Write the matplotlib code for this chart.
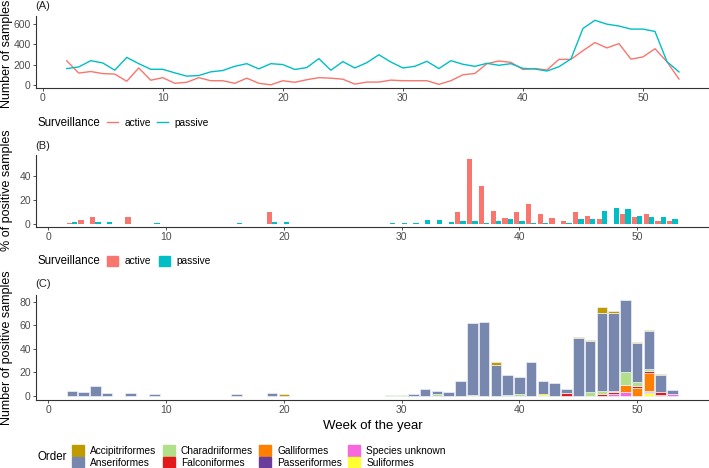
import matplotlib.pyplot as plt
import numpy as np
from matplotlib.lines import Line2D
from matplotlib.patches import Patch

plt.rcParams['font.family'] = ['Liberation Sans', 'DejaVu Sans']

# ---- data ----
# (A) weekly number of samples
weeks_a = list(range(2, 54))
active_n = [240, 120, 135, 115, 110, 40, 170, 50, 75, 20, 30, 75, 45, 45, 20, 70, 20, 5,
            45, 30, 55, 75, 70, 60, 12, 32, 32, 51, 45, 45, 45, 10, 45, 103, 116, 212,
            238, 225, 155, 164, 150, 254, 254, 339, 418, 366, 408, 256, 278, 358, 230, 62]
passive_n = [164, 180, 241, 219, 148, 273, 212, 157, 157, 122, 90, 96, 132, 145, 186, 212,
             161, 212, 203, 155, 174, 261, 148, 232, 170, 222, 299, 228, 170, 186, 235,
             164, 241, 206, 186, 215, 196, 212, 166, 160, 140, 182, 258, 556, 636, 598,
             580, 550, 550, 527, 232, 131]

# (B) % of positive samples
active_weeks_b = [2, 3, 4, 7, 19, 35, 36, 37, 38, 39, 40, 41, 42, 43, 44, 45, 46, 47,
                  49, 50, 51, 52, 53]
active_pct = [1.0, 3.0, 5.5, 5.5, 9.6, 9.6, 53.7, 31.4, 11.0, 4.7, 9.6, 16.8, 8.0, 4.7,
              2.2, 9.6, 6.3, 4.4, 8.3, 5.5, 8.3, 2.8, 2.2]
passive_weeks_b = [2, 4, 5, 9, 16, 19, 20, 29, 30, 31, 32, 33, 34, 35, 36, 37, 38, 39,
                   40, 41, 42, 44, 45, 46, 47, 48, 49, 50, 51, 52, 53]
passive_pct = [1.6, 1.6, 2.0, 1.2, 1.2, 1.6, 1.6, 0.8, 0.8, 0.8, 3.3, 3.3, 2.0, 2.5, 2.5,
               0.8, 2.5, 4.4, 2.5, 0.8, 0.8, 0.8, 4.1, 4.1, 11.0, 13.0, 12.0, 6.3, 5.5,
               5.8, 3.9]

# (C) number of positive samples by order
weeks_c = [2, 3, 4, 5, 7, 9, 16, 19, 20] + list(range(29, 54))
accipitriformes = [0, 0, 0, 0, 0, 0, 0, 0, 1.4,
                   0, 0, 0, 0, 0, 0, 0, 0, 0, 2.5, 0, 0, 0, 0, 0, 0, 1.1, 1.1, 5, 1.4, 0,
                   0.8, 1.1, 0.8, 0]
anseriformes = [4.5, 3.7, 8.2, 2.8, 2.5, 1.4, 1.4, 2.5, 0,
                0, 0, 1.4, 6.2, 2.2, 3.4, 12.4, 61, 62.7, 26, 17, 14, 28.5, 11.2, 10.7,
                3.7, 49, 42.5, 66, 66, 61, 33, 31.6, 14, 3.7]
charadriiformes = [0, 0, 0, 0, 0, 0, 0, 0, 0,
                   1, 1, 0, 0, 2, 0, 0, 0, 0, 0, 1, 2, 0, 0, 0, 0, 0, 3.7, 2.5, 1.1, 11.3,
                   3.4, 1.7, 0, 0]
falconiformes = [0, 0, 0, 0, 0, 0, 0, 0, 0,
                 0, 0, 0, 0, 0, 0, 0, 0, 0, 0, 0, 0, 0, 0, 0, 2.3, 0, 0, 1.7, 1.4, 0,
                 2.3, 2, 2.5, 0]
galliformes = [0, 0, 0, 0, 0, 0, 0, 0, 0,
               0, 0, 0, 0, 0, 0, 0, 0, 0, 0, 0, 0, 0, 0, 0, 0, 0, 0, 0, 0, 5.6,
               6.5, 15.3, 0, 0]
passeriformes = [0, 0, 0, 0, 0, 0, 0, 0, 0,
                 0, 0, 0, 0, 0, 0, 0, 0, 0, 0, 0, 0, 0, 0, 0, 0, 0, 0, 0, 0, 0,
                 0, 0.7, 0, 0]
species_unknown = [0, 0, 0, 0, 0, 0, 0, 0, 0,
                   0, 0, 0, 0, 0, 0, 0, 0, 0, 0, 0, 0, 0, 0, 0, 0, 0, 0, 0, 2, 3.7,
                   0, 1.2, 1, 1.4]
suliformes = [0, 0, 0, 0, 0, 0, 0, 0, 0,
              0, 0, 0, 0, 0, 0, 0, 1, 0, 0, 0, 0, 0, 1.5, 0, 0, 0, 0, 0, 0, 0,
              0, 2.3, 0, 0]

orders = ['Accipitriformes', 'Anseriformes', 'Charadriiformes', 'Falconiformes',
          'Galliformes', 'Passeriformes', 'Species unknown', 'Suliformes']
order_values = [accipitriformes, anseriformes, charadriiformes, falconiformes,
                galliformes, passeriformes, species_unknown, suliformes]
order_colors = ['#BF9B00', '#7787AE', '#B2DF8A', '#E31A1C', '#FF7F00', '#6A3D9A',
                '#F768E0', '#FFFF33']

RED = '#F8766D'
CYAN = '#00BFC4'

# ---- figure ----
W, H = 709, 468
fig = plt.figure(figsize=(W / 100, H / 100), dpi=100)


def px_axes(left, top, right, bottom):
    return fig.add_axes([left / W, 1 - bottom / H, (right - left) / W, (bottom - top) / H])


def style(ax):
    for s in ['top', 'right']:
        ax.spines[s].set_visible(False)
    for s in ['left', 'bottom']:
        ax.spines[s].set_color('#333333')
        ax.spines[s].set_linewidth(0.8)
    ax.tick_params(length=2.2, width=0.6, color='#333333', labelsize=7.5,
                   labelcolor='#4D4D4D', pad=1.5)
    ax.set_xticks([0, 10, 20, 30, 40, 50])


# (A)
ax1 = px_axes(36, 16, 709, 88)
ax1.plot(weeks_a, active_n, color=RED, lw=1.0)
ax1.plot(weeks_a, passive_n, color=CYAN, lw=1.0)
ax1.set_xlim(-0.56, 55.5)
ax1.set_ylim(-26, 678)
ax1.set_yticks([0, 200, 400, 600])
style(ax1)

# (B)
ax2 = px_axes(36, 155, 709, 226.5)
bw = 0.45
ax2.bar(np.array(active_weeks_b) - bw / 2, active_pct, width=bw, color=RED)
ax2.bar(np.array(passive_weeks_b) + bw / 2, passive_pct, width=bw, color=CYAN)
ax2.set_xlim(-1.04, 56.1)
ax2.set_ylim(-2.1, 57.1)
ax2.set_yticks([0, 20, 40])
style(ax2)

# (C) stacked, ggplot order: first level on top
ax3 = px_axes(36, 295, 709, 400)
bottom = np.zeros(len(weeks_c))
for name, vals, col in reversed(list(zip(orders, order_values, order_colors))):
    vals = np.array(vals, dtype=float)
    mask = vals > 0
    ax3.bar(np.array(weeks_c)[mask], vals[mask], bottom=bottom[mask], width=0.9,
            color=col, edgecolor='#EEF1F7', linewidth=0.5)
    bottom += vals
ax3.set_xlim(-1.04, 56.1)
ax3.set_ylim(-3.4, 85.6)
ax3.set_yticks([0, 20, 40, 60, 80])
style(ax3)

# panel tags and axis titles
for tag, y in [('(A)', 6), ('(B)', 146), ('(C)', 284)]:
    fig.text(35 / W, 1 - y / H, tag, fontsize=8, color='#222222', va='center')
for lab, y in [('Number of samples', 54), ('% of positive samples', 190.5),
               ('Number of positive samples', 347.5)]:
    fig.text(7 / W, 1 - y / H, lab, fontsize=9, rotation=90, ha='center', va='center')
fig.text(372.5 / W, 1 - 426 / H, 'Week of the year', fontsize=9.5, ha='center', va='center')

# legends
fig.text(37 / W, 1 - 123 / H, 'Surveillance', fontsize=8.3, va='center')
fig.legend([Line2D([], [], color=RED, lw=1.0), Line2D([], [], color=CYAN, lw=1.0)],
           ['active', 'passive'], loc='center left', bbox_to_anchor=(107 / W, 1 - 123 / H),
           ncol=2, frameon=False, fontsize=7.3, handlelength=1.1, handletextpad=0.6,
           columnspacing=0.6, borderpad=0, borderaxespad=0)

fig.text(37 / W, 1 - 261 / H, 'Surveillance', fontsize=8.3, va='center')
fig.legend([Patch(color=RED), Patch(color=CYAN)], ['active', 'passive'],
           loc='center left', bbox_to_anchor=(107 / W, 1 - 261 / H), ncol=2,
           frameon=False, fontsize=7.3, handlelength=1.1, handleheight=1.2,
           handletextpad=0.6, columnspacing=0.8, borderpad=0, borderaxespad=0)

fig.text(37 / W, 1 - 457 / H, 'Order', fontsize=8.3, va='center')
fig.legend([Patch(color=c) for c in order_colors], orders, loc='center left',
           bbox_to_anchor=(72 / W, 1 - 456.5 / H), ncol=4, frameon=False, fontsize=7.3,
           handlelength=1.2, handleheight=1.2, handletextpad=0.6, columnspacing=0.6,
           labelspacing=0.1, borderpad=0, borderaxespad=0)

fig.savefig('out.png', dpi=100)
